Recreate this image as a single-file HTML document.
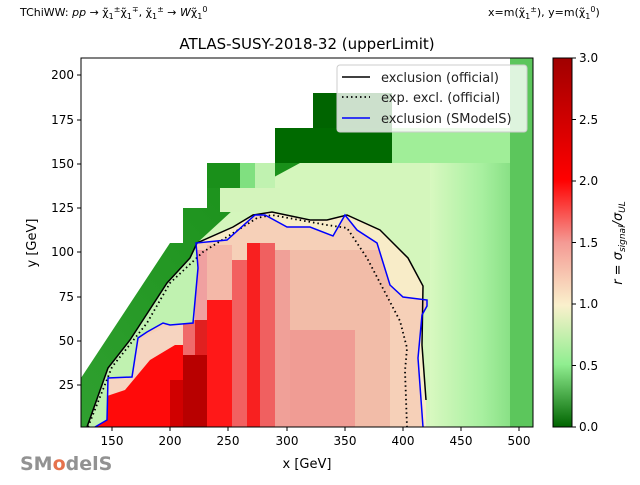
<!DOCTYPE html>
<html><head><meta charset="utf-8"><style>
body{margin:0;background:#fff;}
svg{font-family:"DejaVu Sans","Liberation Sans",sans-serif;}
</style></head><body>
<svg width="640" height="480" viewBox="0 0 640 480" xmlns="http://www.w3.org/2000/svg">
<defs>
<linearGradient id="cb" x1="0" y1="0" x2="0" y2="1">
<stop offset="0" stop-color="#a00000"/>
<stop offset="0.33" stop-color="#ff0000"/>
<stop offset="0.5" stop-color="#f49a94"/>
<stop offset="0.67" stop-color="#faf0cc"/>
<stop offset="0.83" stop-color="#90ee90"/>
<stop offset="1" stop-color="#006400"/>
</linearGradient>
<linearGradient id="rg" x1="0" y1="0" x2="1" y2="0">
<stop offset="0" stop-color="#d8f8c0"/>
<stop offset="0.5" stop-color="#a8f0a0"/>
<stop offset="1" stop-color="#70d470"/>
</linearGradient>
<linearGradient id="lb" x1="0" y1="1" x2="1" y2="0">
<stop offset="0" stop-color="#30a030"/>
<stop offset="1" stop-color="#108a10"/>
</linearGradient>
<linearGradient id="fade" x1="0" y1="0" x2="0" y2="1">
<stop offset="0" stop-color="#f6d8c0"/>
<stop offset="1" stop-color="#ff1010"/>
</linearGradient>
<clipPath id="pa"><rect x="81" y="58" width="452" height="369"/></clipPath>
<clipPath id="bl"><polygon points="95,427 107,420 108,378 132,377 138,338 147,332 163,323 170,325 193,323 198,268 196,243 227,240 255,215 265,215 287,227 310,227 333,236 345,215 357,230 377,243 390,285 403,297 427,300 427,306 422,315 418,358 423,427"/></clipPath>
</defs>
<g clip-path="url(#pa)">
<polygon fill="#d4f6bc" points="81,427 81,378 170,243 183,243 183,208 207,208 207,163 275,163 275,128 313,128 313,93 392,93 392,128 510,128 510,58 533,58 533,427"/>
<rect x="430" y="128" width="103" height="299" fill="url(#rg)"/>
<rect x="392" y="128" width="141" height="35" fill="#a0ee98"/>
<rect x="510" y="58" width="23" height="369" fill="#5cc65c"/>
<polygon fill="url(#lb)" points="81,427 81,378 170,243 183,243 183,208 207,208 207,163 275,163 275,128 313,128 313,93 392,93 392,163 300,163 250,190 233,210 197,243 190,258 167,283 130,340 108,368 87,427"/>
<rect x="275" y="128" width="117" height="35" fill="#006a00"/>
<rect x="313" y="93" width="79" height="35" fill="#006400"/>
<rect x="207" y="163" width="33" height="25" fill="#1a901a"/>
<rect x="240" y="163" width="15" height="25" fill="#80e080"/>
<rect x="255" y="163" width="20" height="25" fill="#c0f2b0"/>
<rect x="220" y="188" width="60" height="24" fill="#d4f4bc"/>
<polygon fill="#f8ecc8" points="87,427 108,368 130,340 167,283 190,258 197,243 233,227 253,215 272,212 310,220 327,220 347,215 380,230 408,258 423,286 422,345 426,400 426,427"/>
<polygon fill="#c0f2b0" points="87,427 108,368 130,340 167,283 190,258 197,243 196,243 198,268 193,323 170,325 147,332 138,338 132,377 108,378 107,420 95,427"/>
<g clip-path="url(#bl)">
<rect x="81" y="200" width="350" height="227" fill="#f6d0b8"/>
<rect x="290" y="250" width="100" height="177" fill="#f2bca8"/>
<rect x="290" y="330" width="65" height="97" fill="#f09c94"/>
<rect x="195" y="250" width="12" height="177" fill="#f0a0a0"/>
<rect x="207" y="245" width="25" height="55" fill="#f4b8a8"/>
<rect x="207" y="300" width="25" height="127" fill="#ff1818"/>
<rect x="232" y="260" width="15" height="167" fill="#f26060"/>
<rect x="247" y="243" width="13" height="184" fill="#f82020"/>
<rect x="260" y="243" width="15" height="184" fill="#f06060"/>
<rect x="275" y="250" width="15" height="177" fill="#f0a098"/>
<rect x="81" y="340" width="126" height="87" fill="#ff0a0a"/>
<polygon fill="#f6d4c0" points="95,360 180,320 195,320 195,345 175,345 150,360 125,390 95,400"/>
<rect x="183" y="320" width="12" height="40" fill="#f06a6a"/>
<rect x="195" y="320" width="12" height="40" fill="#e02020"/>
<rect x="183" y="355" width="24" height="72" fill="#b80000"/>
<rect x="170" y="380" width="13" height="47" fill="#d00000"/>
</g>
<polyline fill="none" stroke="#000" stroke-width="1.5" points="87,427 108,368 130,340 167,283 190,258 197,243 233,227 253,215 272,212 310,220 327,220 347,215 380,230 408,258 423,286 422,345 426,400"/>
<polyline fill="none" stroke="#000" stroke-width="1.8" stroke-dasharray="1.5,3" points="88,427 112,367 147,323 170,283 203,252 257,218 272,215 327,225 347,228 367,258 400,321 407,348 405,371 407,427"/>
<polyline fill="none" stroke="#0000ff" stroke-width="1.5" points="95,427 107,420 108,378 132,377 138,338 147,332 163,323 170,325 193,323 198,268 196,243 227,240 255,215 265,215 287,227 310,227 333,236 345,215 357,230 377,243 390,285 403,297 427,300 427,306 422,315 418,358 423,427"/>
</g>
<rect x="81" y="58" width="452" height="369" fill="none" stroke="#000" stroke-width="1"/>
<rect x="337" y="65" width="190" height="67" rx="3" fill="#fff" fill-opacity="0.8" stroke="#ccc"/>
<line x1="342" y1="77" x2="370" y2="77" stroke="#000" stroke-width="1.5"/>
<line x1="342" y1="97" x2="370" y2="97" stroke="#000" stroke-width="1.8" stroke-dasharray="1.5,3"/>
<line x1="342" y1="118" x2="370" y2="118" stroke="#00f" stroke-width="1.5"/>
<g font-size="13" fill="#222">
<text x="381" y="82">exclusion (official)</text>
<text x="381" y="102">exp. excl. (official)</text>
<text x="381" y="123">exclusion (SModelS)</text>
</g>
<g stroke="#000" stroke-width="1">
<line x1="112" y1="427" x2="112" y2="431"/><line x1="170" y1="427" x2="170" y2="431"/><line x1="228" y1="427" x2="228" y2="431"/><line x1="287" y1="427" x2="287" y2="431"/><line x1="345" y1="427" x2="345" y2="431"/><line x1="403" y1="427" x2="403" y2="431"/><line x1="461" y1="427" x2="461" y2="431"/><line x1="519" y1="427" x2="519" y2="431"/>
<line x1="77" y1="385" x2="81" y2="385"/><line x1="77" y1="341" x2="81" y2="341"/><line x1="77" y1="297" x2="81" y2="297"/><line x1="77" y1="252" x2="81" y2="252"/><line x1="77" y1="208" x2="81" y2="208"/><line x1="77" y1="164" x2="81" y2="164"/><line x1="77" y1="120" x2="81" y2="120"/><line x1="77" y1="75" x2="81" y2="75"/>
</g>
<g font-size="12" fill="#000" text-anchor="middle">
<text x="112" y="445">150</text><text x="170" y="445">200</text><text x="228" y="445">250</text><text x="287" y="445">300</text><text x="345" y="445">350</text><text x="403" y="445">400</text><text x="461" y="445">450</text><text x="519" y="445">500</text>
</g>
<g font-size="12" fill="#000" text-anchor="end">
<text x="74" y="389">25</text><text x="74" y="345">50</text><text x="74" y="301">75</text><text x="74" y="256">100</text><text x="74" y="212">125</text><text x="74" y="168">150</text><text x="74" y="124">175</text><text x="74" y="79">200</text>
</g>
<text x="307" y="468" font-size="13" text-anchor="middle">x [GeV]</text>
<text transform="translate(36,243) rotate(-90)" font-size="13" text-anchor="middle">y [GeV]</text>
<text x="307" y="49" font-size="15" text-anchor="middle">ATLAS-SUSY-2018-32 (upperLimit)</text>
<text x="20" y="16" font-size="11">TChiWW: <tspan font-style="italic">pp</tspan> → χ̃<tspan font-size="8" dy="3">1</tspan><tspan font-size="8" dy="-7">±</tspan><tspan dy="4">χ̃</tspan><tspan font-size="8" dy="3">1</tspan><tspan font-size="8" dy="-7">∓</tspan><tspan dy="4">, χ̃</tspan><tspan font-size="8" dy="3">1</tspan><tspan font-size="8" dy="-7">±</tspan><tspan dy="4"> → </tspan><tspan font-style="italic">W</tspan>χ̃<tspan font-size="8" dy="3">1</tspan><tspan font-size="8" dy="-7">0</tspan></text>
<text x="488" y="16" font-size="11">x=m(χ̃<tspan font-size="8" dy="3">1</tspan><tspan font-size="8" dy="-7">±</tspan><tspan dy="4">), y=m(χ̃</tspan><tspan font-size="8" dy="3">1</tspan><tspan font-size="8" dy="-7">0</tspan><tspan dy="4">)</tspan></text>
<rect x="553" y="58" width="19" height="369" fill="url(#cb)" stroke="#000" stroke-width="1"/>
<g stroke="#000"><line x1="572" y1="58" x2="576" y2="58"/><line x1="572" y1="119.5" x2="576" y2="119.5"/><line x1="572" y1="181" x2="576" y2="181"/><line x1="572" y1="242.5" x2="576" y2="242.5"/><line x1="572" y1="304" x2="576" y2="304"/><line x1="572" y1="365.5" x2="576" y2="365.5"/><line x1="572" y1="427" x2="576" y2="427"/></g>
<g font-size="12" fill="#000">
<text x="579" y="62">3.0</text><text x="579" y="124">2.5</text><text x="579" y="185">2.0</text><text x="579" y="247">1.5</text><text x="579" y="308">1.0</text><text x="579" y="370">0.5</text><text x="579" y="431">0.0</text>
</g>
<text transform="translate(622,243) rotate(-90)" font-size="13" text-anchor="middle" font-style="italic">r = σ<tspan font-size="9" dy="3">signal</tspan><tspan dy="-3">/σ</tspan><tspan font-size="9" dy="3">UL</tspan></text>
<text x="20" y="470" font-size="19" fill="#777" font-weight="bold" opacity="0.8">SM<tspan fill="#e05020">o</tspan>delS</text>
</svg>
</body></html>
